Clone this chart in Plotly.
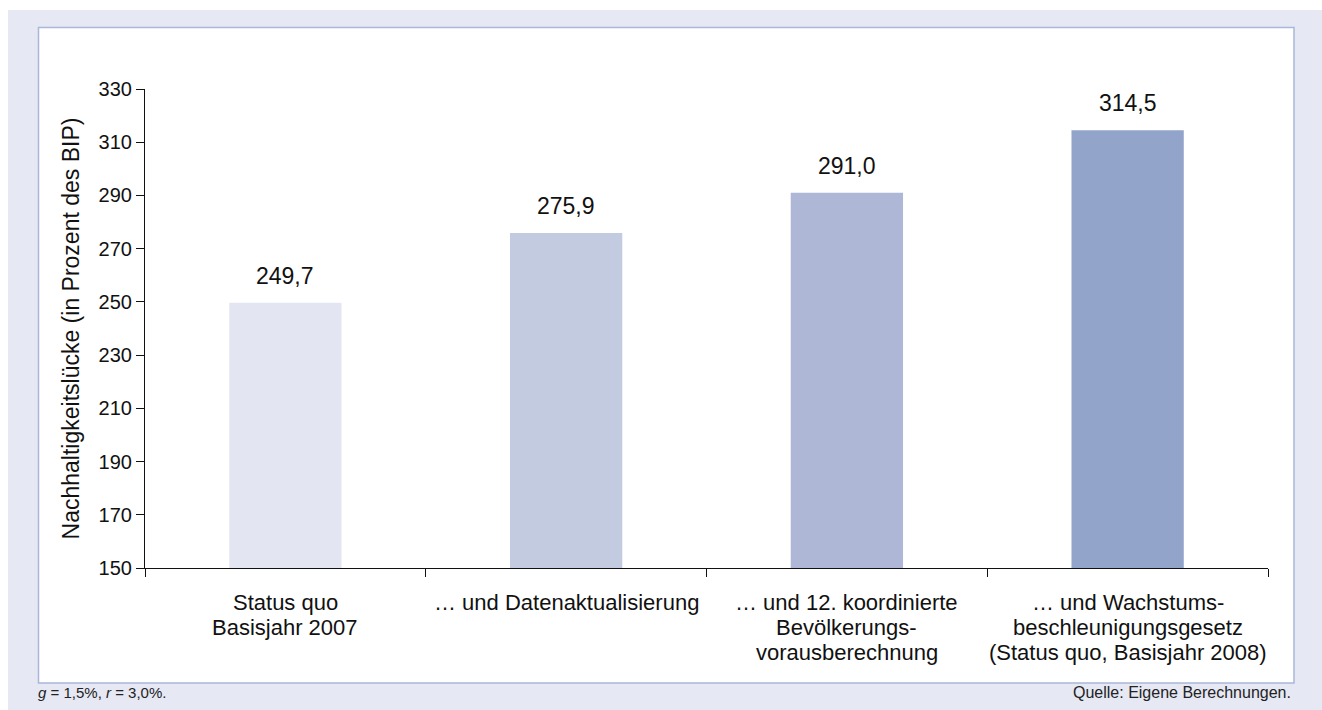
import plotly.graph_objects as go

category_lines = [
    ["Status quo", "Basisjahr 2007"],
    ["… und Datenaktualisierung"],
    ["… und 12. koordinierte", "Bevölkerungs-", "vorausberechnung"],
    ["… und Wachstums-", "beschleunigungsgesetz", "(Status quo, Basisjahr 2008)"],
]
categories = [" ".join(lines) for lines in category_lines]
values = [249.7, 275.9, 291.0, 314.5]
bar_colors = ["#e3e6f2", "#c3cbe1", "#aeb8d6", "#93a4ca"]
y_ticks = [150, 170, 190, 210, 230, 250, 270, 290, 310, 330]

W, H = 1322, 710
L, R, T, B = 145, 1268, 89, 568  # plot area in px

def px(x):
    return (x - L) / (R - L)

def py(y):
    return (B - y) / (B - T)

FONT = "Liberation Sans, Arial, Helvetica, sans-serif"
INK = "#111111"

fig = go.Figure()
fig.add_trace(go.Bar(
    x=categories,
    y=values,
    marker=dict(color=bar_colors, line=dict(width=0)),
    width=0.4,
    hoverinfo="skip",
))

# value labels
for c, v in zip(categories, values):
    fig.add_annotation(
        x=c, y=v, text=f"{v:.1f}".replace(".", ","),
        showarrow=False, yanchor="bottom", yshift=12,
        font=dict(family=FONT, size=23, color=INK),
    )

# category labels (tight line spacing)
for c, lines in zip(categories, category_lines):
    for j, line in enumerate(lines):
        fig.add_annotation(
            x=c, xref="x", y=0, yref="paper", text=line,
            showarrow=False, yanchor="middle", yshift=-(34 + 25 * j),
            font=dict(family=FONT, size=22, color=INK),
        )

shapes = [
    dict(type="rect", xref="paper", yref="paper", x0=px(8), x1=px(1340), y0=py(10), y1=py(730),
         fillcolor="#e6e8f4", line=dict(width=0), layer="below"),
    dict(type="rect", xref="paper", yref="paper", x0=px(38.5), x1=px(1294), y0=py(27.5), y1=py(683),
         fillcolor="#ffffff", line=dict(color="#a9b8d8", width=1.5), layer="below"),
]

fig.update_layout(
    width=W, height=H,
    margin=dict(l=L, r=W - R, t=T, b=H - B),
    paper_bgcolor="#ffffff",
    plot_bgcolor="rgba(0,0,0,0)",
    showlegend=False,
    shapes=shapes,
    font=dict(family=FONT, size=20, color=INK),
    xaxis=dict(
        type="category",
        categoryorder="array", categoryarray=categories,
        range=[-0.5, 3.5],
        tickson="boundaries",
        showticklabels=False,
        showline=True, linecolor=INK, linewidth=1.2,
        ticks="outside", ticklen=8, tickcolor=INK, tickwidth=1.2,
        showgrid=False, zeroline=False,
    ),
    yaxis=dict(
        range=[150, 330],
        tickmode="array", tickvals=y_ticks, ticktext=[str(t) for t in y_ticks],
        showline=True, linecolor=INK, linewidth=1.2,
        ticks="outside", ticklen=8, tickcolor=INK, tickwidth=1.2,
        showgrid=False, zeroline=False,
        tickfont=dict(family=FONT, size=20, color=INK),
        title=dict(text="Nachhaltigkeitslücke (in Prozent des BIP)",
                   font=dict(family=FONT, size=23, color=INK), standoff=12),
    ),
)

fig.add_annotation(
    xref="paper", yref="paper", x=px(36), y=py(692), xanchor="left", yanchor="middle",
    text="<i>g</i> = 1,5%, <i>r</i> = 3,0%.", showarrow=False,
    font=dict(family=FONT, size=15, color="#222222"),
)
fig.add_annotation(
    xref="paper", yref="paper", x=px(1293), y=py(692), xanchor="right", yanchor="middle",
    text="Quelle: Eigene Berechnungen.", showarrow=False,
    font=dict(family=FONT, size=16, color="#222222"),
)

fig.write_html(
    "out.html",
    config={"displayModeBar": False},
    post_script="document.body.style.margin='0';document.body.style.overflow='hidden';",
)
